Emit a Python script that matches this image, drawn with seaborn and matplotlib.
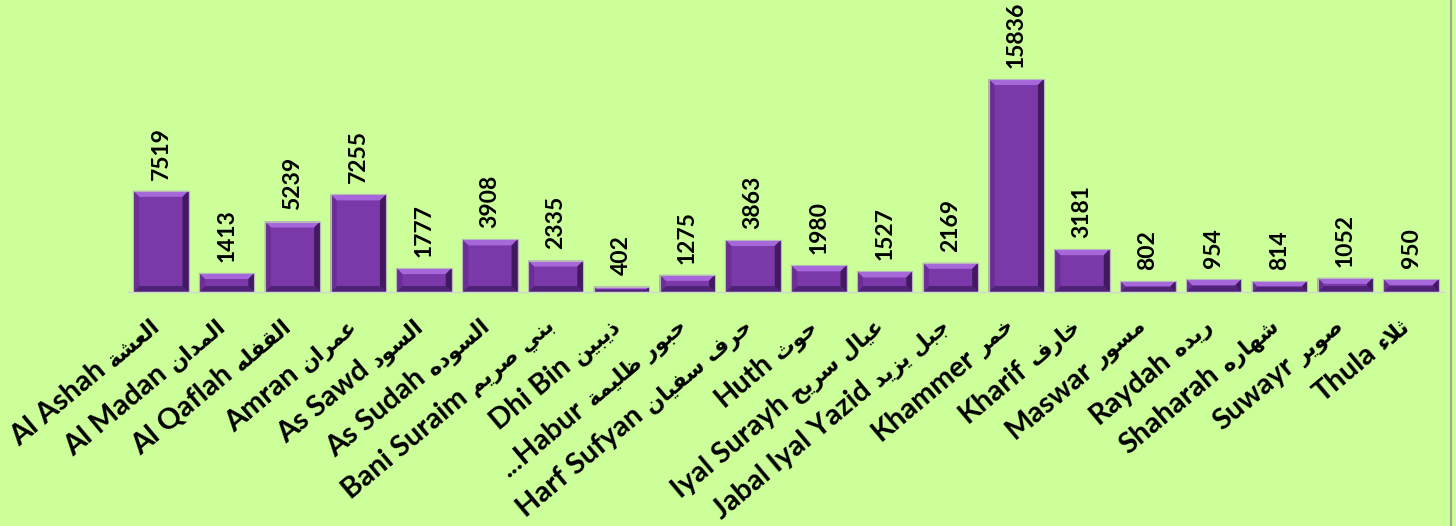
import numpy as np
import pandas as pd
import matplotlib
matplotlib.use("Agg")
import matplotlib.pyplot as plt
import seaborn as sns
from matplotlib.patches import Polygon
from matplotlib.lines import Line2D

# ---------------- data ----------------
names_en = ["Al Ashah", "Al Madan", "Al Qaflah", "Amran", "As Sawd", "As Sudah",
            "Bani Suraim", "Dhi Bin", "...Habur", "Harf Sufyan", "Huth",
            "Iyal Surayh", "Jabal Iyal Yazid", "Khammer", "Kharif", "Maswar",
            "Raydah", "Shaharah", "Suwayr", "Thula"]
names_ar = ["العشة", "المدان", "القفله", "عمران", "السود", "السوده",
            "بني صريم", "ذيبين", "حبور ظليمة", "حرف سفيان", "حوث",
            "عيال سريح", "جبل يزيد", "خمر", "خارف", "مسور",
            "ريده", "شهاره", "صوير", "ثلاء"]
values = [7519, 1413, 5239, 7255, 1777, 3908, 2335, 402, 1275, 3863, 1980,
          1527, 2169, 15836, 3181, 802, 954, 814, 1052, 950]

# ---------------- minimal Arabic shaping (presentation forms) ----------------
def _f(base, n):
    return tuple(chr(base + k) for k in range(n)) + (None,) * (4 - n)

FORMS = {
    'ء': (chr(0xFE80), None, None, None),
    'ا': _f(0xFE8D, 2), 'ب': _f(0xFE8F, 4), 'ة': _f(0xFE93, 2), 'ت': _f(0xFE95, 4),
    'ث': _f(0xFE99, 4), 'ج': _f(0xFE9D, 4), 'ح': _f(0xFEA1, 4), 'خ': _f(0xFEA5, 4),
    'د': _f(0xFEA9, 2), 'ذ': _f(0xFEAB, 2), 'ر': _f(0xFEAD, 2), 'ز': _f(0xFEAF, 2),
    'س': _f(0xFEB1, 4), 'ش': _f(0xFEB5, 4), 'ص': _f(0xFEB9, 4), 'ض': _f(0xFEBD, 4),
    'ط': _f(0xFEC1, 4), 'ظ': _f(0xFEC5, 4), 'ع': _f(0xFEC9, 4), 'غ': _f(0xFECD, 4),
    'ف': _f(0xFED1, 4), 'ق': _f(0xFED5, 4), 'ك': _f(0xFED9, 4), 'ل': _f(0xFEDD, 4),
    'م': _f(0xFEE1, 4), 'ن': _f(0xFEE5, 4), 'ه': _f(0xFEE9, 4), 'و': _f(0xFEED, 2),
    'ي': _f(0xFEF1, 4),
    'LA': (chr(0xFEFB), chr(0xFEFC), None, None),
}

def shape_ar(s):
    toks, i = [], 0
    while i < len(s):
        if s[i] == 'ل' and i + 1 < len(s) and s[i + 1] == 'ا':
            toks.append('LA'); i += 2
        else:
            toks.append(s[i]); i += 1
    out = []
    for k, t in enumerate(toks):
        if t not in FORMS:
            out.append(t); continue
        iso, fin, ini, med = FORMS[t]
        prev = toks[k - 1] if k > 0 else None
        nxt = toks[k + 1] if k + 1 < len(toks) else None
        jp = prev in FORMS and FORMS[prev][2] is not None and fin is not None
        jn = ini is not None and nxt in FORMS and FORMS[nxt][1] is not None
        if jp and jn:
            out.append(med)
        elif jp:
            out.append(fin)
        elif jn:
            out.append(ini)
        else:
            out.append(iso)
    return ''.join(out)[::-1]

ar_visual = [shape_ar(a) for a in names_ar]

# ---------------- style ----------------
BG = "#CCFF99"
sns.set_style("white")
plt.rcParams['font.family'] = ['Lato', 'DejaVu Sans']
AR_FS = 15.5
AR_W = "bold"
EN_FS = 21
ROT = 40

df = pd.DataFrame({"district": names_en, "value": values})

fig = plt.figure(figsize=(14.56, 5.26), dpi=100, facecolor=BG)
ax = fig.add_axes([128 / 1456, (526 - 292) / 526, (1444 - 128) / 1456, 292 / 526])
ax.set_facecolor(BG)

sns.barplot(data=df, x="district", y="value", color="#7B38A9", saturation=1,
            width=0.84, edgecolor="#B8B8B8", linewidth=0.8, ax=ax)

ax.set_xlim(-0.5, len(values) - 0.5)
ax.set_ylim(0, 21710)
ax.set_xlabel("")
ax.set_ylabel("")
ax.set_yticks([])
for s in ["top", "left", "right"]:
    ax.spines[s].set_visible(False)
ax.spines["bottom"].set_color("#D4D4D4")
ax.spines["bottom"].set_linewidth(1.0)

# bevel effect derived from bar geometry
fig.canvas.draw()
px_x = ax.transData.transform((1, 0))[0] - ax.transData.transform((0, 0))[0]
px_y = ax.transData.transform((0, 1000))[1] - ax.transData.transform((0, 0))[1]
bev_px = 6.0
for p in list(ax.patches):
    x0, y0 = p.get_x(), p.get_y()
    w, h = p.get_width(), p.get_height()
    x1, y1 = x0 + w, y0 + h
    hp = h * px_y / 1000.0
    b = min(bev_px, hp / 2.2)
    bx = b / px_x
    by = b * 1000.0 / px_y
    polys = [
        ([(x0, y1), (x1, y1), (x1 - bx, y1 - by), (x0 + bx, y1 - by)], "#A567D9"),  # top
        ([(x0, y0), (x1, y0), (x1 - bx, y0 + by), (x0 + bx, y0 + by)], "#4E2377"),  # bottom
        ([(x0, y0), (x0, y1), (x0 + bx, y1 - by), (x0 + bx, y0 + by)], "#6A2E96"),  # left
        ([(x1, y0), (x1, y1), (x1 - bx, y1 - by), (x1 - bx, y0 + by)], "#40195F"),  # right
    ]
    for pts, c in polys:
        ax.add_patch(Polygon(pts, closed=True, facecolor=c, edgecolor="none", zorder=p.get_zorder() + 0.1))
    ax.add_patch(Polygon([(x0, y0), (x1, y0), (x1, y1), (x0, y1)], closed=True, fill=False,
                         edgecolor="#B8B8B8", linewidth=0.8, zorder=p.get_zorder() + 0.2))

# value labels
ax.bar_label(ax.containers[0], labels=[str(v) for v in values], rotation=90,
             padding=8, fontsize=16.5, fontweight="bold", color="black")

# ticks: Arabic names as tick labels at centers, marks at category boundaries
ax.set_xticks(range(len(values)))
ax.set_xticklabels(ar_visual, rotation=ROT, ha="right", va="baseline", rotation_mode="anchor",
                   fontsize=AR_FS, family="DejaVu Sans", fontweight=AR_W, color="black")
ax.tick_params(axis="x", which="major", length=0, pad=26)
ax.set_xticks(np.arange(-0.5, len(values), 1.0), minor=True)
ax.tick_params(axis="x", which="minor", length=6, color="#D4D4D4", width=1.0, direction="out")

# English names continue each label down-left of the Arabic part
fig.canvas.draw()
renderer = fig.canvas.get_renderer()
gap_px = 8.0
cs = np.cos(np.deg2rad(ROT)); sn = np.sin(np.deg2rad(ROT))
for t, en in zip(ax.get_xticklabels(), names_en):
    tmp = fig.text(0, 0, t.get_text(), fontsize=AR_FS, family="DejaVu Sans", fontweight=AR_W)
    L = tmp.get_window_extent(renderer).width
    tmp.remove()
    ax_pt = t.get_transform().transform(t.get_position())
    pt = (ax_pt[0] - (L + gap_px) * cs, ax_pt[1] - (L + gap_px) * sn)
    fpt = fig.transFigure.inverted().transform(pt)
    fig.text(fpt[0], fpt[1], en, rotation=ROT, ha="right", va="baseline",
             rotation_mode="anchor", fontsize=EN_FS, fontweight="bold", color="black")

# right frame line of chart area
fig.add_artist(Line2D([1451 / 1456, 1451 / 1456], [0, 1], color="#A0A890", linewidth=1.5))

fig.savefig("out.png", dpi=100, facecolor=BG)
